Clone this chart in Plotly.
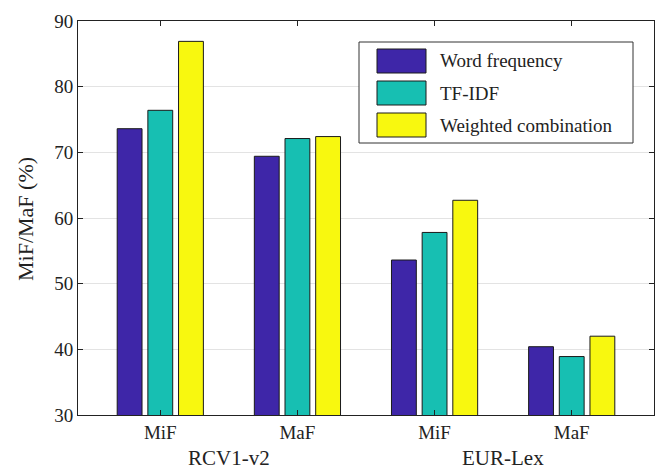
import plotly.graph_objects as go

categories = ["MiF", "MaF", "MiF", "MaF"]
groups = ["RCV1-v2", "EUR-Lex"]
series_names = ["Word frequency", "TF-IDF", "Weighted combination"]
word_freq = [73.6, 69.4, 53.6, 40.4]
tf_idf = [76.4, 72.1, 57.8, 38.9]
weighted = [86.9, 72.4, 62.7, 42.0]
colors = ["#3e26a8", "#17bfb2", "#f8f80f"]
y_ticks = [30, 40, 50, 60, 70, 80, 90]

W, H = 657, 472
L, R, T, B = 78, 654, 21, 415
FONT = "Liberation Serif, Times New Roman, serif"
TXT = "#222"

x = list(range(len(categories)))
fig = go.Figure()
for name, vals, c in zip(series_names, [word_freq, tf_idf, weighted], colors):
    fig.add_trace(go.Bar(x=x, y=vals, name=name,
                         marker=dict(color=c, line=dict(color="#1a1a1a", width=1))))

def px(xp):
    return (xp - L) / (R - L)

def py(yp):
    return (B - yp) / (B - T)

shapes = []
annotations = []
# legend box
shapes.append(dict(type="rect", xref="paper", yref="paper", x0=px(359), x1=px(633), y0=py(143), y1=py(42),
                   line=dict(color="#333", width=1), fillcolor="white", layer="above"))
row_y = [61, 93, 125]
for name, c, ry in zip(series_names, colors, row_y):
    shapes.append(dict(type="rect", xref="paper", yref="paper", x0=px(377), x1=px(426),
                       y0=py(ry + 12), y1=py(ry - 12),
                       line=dict(color="#1a1a1a", width=1), fillcolor=c, layer="above"))
    annotations.append(dict(xref="paper", yref="paper", x=px(438), y=py(ry), text=name, showarrow=False,
                            xanchor="left", yanchor="middle", font=dict(family=FONT, size=19, color=TXT)))
# group labels
for i, g in enumerate(groups):
    annotations.append(dict(xref="x", yref="paper", x=2 * i + 0.5, y=py(458), text=g, showarrow=False,
                            xanchor="center", yanchor="middle", font=dict(family=FONT, size=21, color=TXT)))
# y-axis title
annotations.append(dict(xref="paper", yref="paper", x=px(25), y=py(219), text="MiF/MaF (%)", showarrow=False,
                        textangle=-90, xanchor="center", yanchor="middle",
                        font=dict(family=FONT, size=22, color=TXT)))

fig.update_layout(
    width=W, height=H,
    margin=dict(l=L, r=W - R, t=T, b=H - B, pad=0),
    paper_bgcolor="white", plot_bgcolor="white",
    barmode="group", bargap=0.329, bargroupgap=0.19,
    showlegend=False,
    font=dict(family=FONT, size=19, color=TXT),
    shapes=shapes, annotations=annotations,
)
fig.update_xaxes(range=[-0.6, 3.6], tickvals=x, ticktext=categories, ticks="inside", ticklen=5,
                 tickcolor="#222", showline=True, linecolor="#222", linewidth=1, mirror="ticks",
                 showgrid=False, zeroline=False, tickfont=dict(family=FONT, size=19, color=TXT))
fig.update_yaxes(range=[30, 90], tickvals=y_ticks, ticks="inside", ticklen=5, tickcolor="#222",
                 showline=True, linecolor="#222", linewidth=1, mirror="ticks",
                 showgrid=True, gridcolor="#e3e3e3", gridwidth=1, zeroline=False,
                 tickfont=dict(family=FONT, size=19, color=TXT))

fig.write_html("out.html", config={"displayModeBar": False},
               post_script="document.body.style.margin='0px';")
